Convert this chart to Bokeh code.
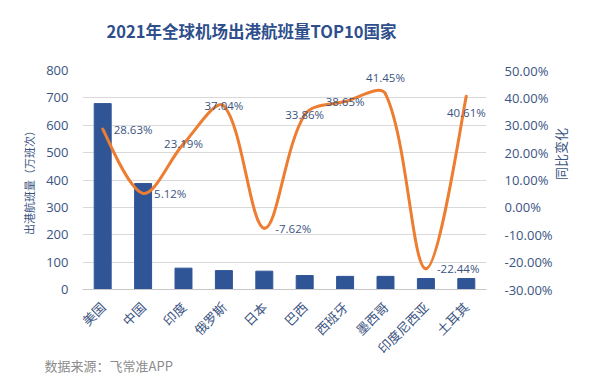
import math
from bokeh.plotting import figure
from bokeh.models import (FactorRange, Range1d, LinearAxis, SingleIntervalTicker,
                          PrintfTickFormatter, ColumnDataSource, Title)
from bokeh.core.properties import value
from bokeh.embed import file_html
from bokeh.resources import INLINE

countries = ["美国", "中国", "印度", "俄罗斯", "日本", "巴西", "西班牙", "墨西哥", "印度尼西亚", "土耳其"]
flights = [679, 387, 78, 69, 67, 51, 48, 48, 40, 40]          # 万班次
yoy = [28.63, 5.12, 23.19, 37.04, -7.62, 33.86, 38.65, 41.45, -22.44, 40.61]  # %
yoy_labels = ["28.63%", "5.12%", "23.19%", "37.04%", "-7.62%", "33.86%", "38.65%", "41.45%", "-22.44%", "40.61%"]

# label placement styles (right / center / above / below)
label_pos = ["r", "r", "c", "c", "r", "c", "c", "a", "r", "b"]

FONT = "'Open Sans', 'Noto Sans CJK SC', sans-serif"
CJK = "'Noto Sans CJK SC', sans-serif"
BLUE_TXT = "#3B5482"
BAR = "#2F5597"
ORANGE = "#ED7D31"
GRID = "#D9D9D9"

W, H = 588, 376
ML, MT = 82, 70
MR, MB = W - 486, H - 289

p = figure(width=W, height=H, x_range=FactorRange(factors=countries, range_padding=0),
           y_range=Range1d(0, 800), output_backend="svg", toolbar_location=None,
           min_border_left=ML, min_border_right=MR, min_border_top=MT, min_border_bottom=MB,
           outline_line_color=None)
p.extra_y_ranges = {"pct": Range1d(-30, 50)}

# bars
src = ColumnDataSource(dict(c=countries, v=flights))
p.vbar(x="c", top="v", width=0.42, color=BAR, source=src)

# smoothed line (bezier segments, control points from neighbours, chord-weighted)
xs = [i + 0.5 for i in range(len(yoy))]
px_x = (W - ML - MR) / len(countries)       # pixels per category
px_y = (H - MT - MB) / 80.0                 # pixels per percent
def dist(i, j):
    return math.hypot((xs[j] - xs[i]) * px_x, (yoy[j] - yoy[i]) * px_y)
n = len(xs)
cin, cout = [], []
for i in range(n):
    i0, i2 = max(i - 1, 0), min(i + 1, n - 1)
    tx, ty = xs[i2] - xs[i0], yoy[i2] - yoy[i0]
    d0 = dist(i0, i) if i > 0 else 0.0
    d1 = dist(i, i2) if i < n - 1 else 0.0
    tot = d0 + d1 if (d0 + d1) > 0 else 1.0
    s = 1.0 / 3.0
    if i == 0 or i == n - 1:
        s = 1.0 / 6.0
        d0 = d1 = tot / 2
    cin.append((xs[i] - tx * d0 / tot * s, yoy[i] - ty * d0 / tot * s))
    cout.append((xs[i] + tx * d1 / tot * s, yoy[i] + ty * d1 / tot * s))
bsrc = ColumnDataSource(dict(
    x0=xs[:-1], y0=yoy[:-1], x1=xs[1:], y1=yoy[1:],
    cx0=[c[0] for c in cout[:-1]], cy0=[c[1] for c in cout[:-1]],
    cx1=[c[0] for c in cin[1:]], cy1=[c[1] for c in cin[1:]]))
p.bezier(x0="x0", y0="y0", x1="x1", y1="y1", cx0="cx0", cy0="cy0", cx1="cx1", cy1="cy1",
         line_color=ORANGE, line_width=3, line_cap="round", y_range_name="pct", source=bsrc)

# data labels
for pos_key, align, xo, yo in [("r", "left", 11, 0), ("c", "center", 0, 0), ("a", "center", 0, -16), ("b", "center", 0, 16)]:
    idx = [i for i in range(n) if label_pos[i] == pos_key]
    ls = ColumnDataSource(dict(x=[xs[i] for i in idx], y=[yoy[i] for i in idx], t=[yoy_labels[i] for i in idx]))
    p.text(x="x", y="y", text="t", source=ls, y_range_name="pct", text_align=align,
           text_baseline="middle", x_offset=xo, y_offset=yo, text_font=value(FONT),
           text_font_size="11.5px", text_color=BLUE_TXT)

# axes styling
p.xgrid.grid_line_color = None
p.ygrid.grid_line_color = GRID
p.ygrid.ticker = SingleIntervalTicker(interval=100)

yl = p.yaxis[0]
yl.ticker = SingleIntervalTicker(interval=100)
yl.axis_line_color = None
yl.major_tick_line_color = None
yl.minor_tick_line_color = None
yl.major_label_standoff = 8
yl.major_label_text_font = FONT
yl.major_label_text_font_size = "13px"
yl.major_label_text_color = BLUE_TXT
yl.axis_label = "出港航班量（万班次）"
yl.axis_label_text_font = CJK
yl.axis_label_text_font_size = "11px"
yl.axis_label_text_font_style = "normal"
yl.axis_label_text_color = BLUE_TXT
yl.axis_label_standoff = 6

yr = LinearAxis(y_range_name="pct", ticker=SingleIntervalTicker(interval=10),
                formatter=PrintfTickFormatter(format="%.2f%%"))
yr.axis_line_color = None
yr.major_tick_line_color = None
yr.minor_tick_line_color = None
yr.major_label_standoff = 12
yr.major_label_text_font = FONT
yr.major_label_text_font_size = "13px"
yr.major_label_text_color = BLUE_TXT
yr.axis_label = "同比变化"
yr.axis_label_text_font = CJK
yr.axis_label_text_font_size = "13px"
yr.axis_label_text_font_style = "normal"
yr.axis_label_text_color = BLUE_TXT
yr.axis_label_standoff = 5
if hasattr(yr, "axis_label_orientation"):
    yr.axis_label_orientation = math.pi / 2
p.add_layout(yr, "right")

xa = p.xaxis[0]
xa.axis_line_color = "#C8C8C8"
xa.major_tick_line_color = None
xa.minor_tick_line_color = None
xa.major_label_orientation = math.pi / 4
xa.major_label_text_font = CJK
xa.major_label_text_font_size = "13px"
xa.major_label_text_color = BLUE_TXT
xa.major_label_standoff = 9

# title (pushed up by an empty spacer panel between it and the plot area)
p.title.text = "2021年全球机场出港航班量TOP10国家"
p.title.align = "left"
p.title.offset = 24
p.title.vertical_align = "bottom"
p.title.standoff = 0
p.title.text_font = CJK
p.title.text_font_size = "16.5px"
p.title.text_font_style = "bold"
p.title.text_color = "#2E4E8C"
p.add_layout(Title(text=" ", text_font_size="1px", standoff=25), "above")

p.add_layout(Title(text="数据来源：飞常准APP", align="left", offset=-38,
                   vertical_align="top", standoff=-22,
                   text_font=CJK, text_font_size="13px", text_font_style="normal",
                   text_color="#8C8C8C"), "below")

open("out.html", "w").write(file_html(p, INLINE))
